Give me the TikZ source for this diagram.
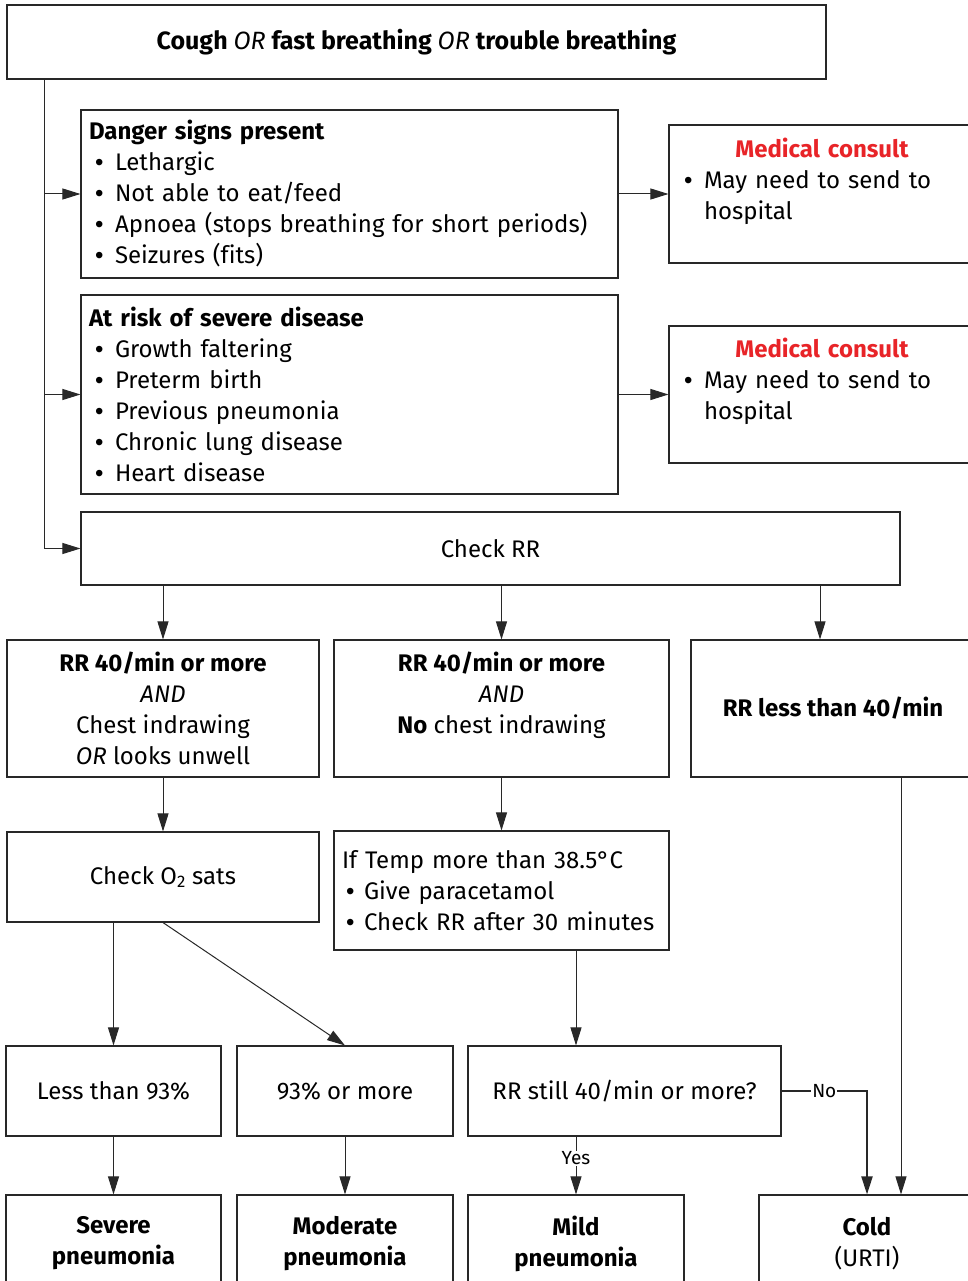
\documentclass[tikz,border=0pt]{standalone}
\usepackage{fontspec}
\setmainfont{Fira Sans}[Ligatures=NoCommon]
\newfontfamily\bulfont{Liberation Sans}
\usetikzlibrary{arrows.meta}
\definecolor{mcred}{RGB}{232,36,40}
\definecolor{linec}{RGB}{40,40,40}
\newcommand\bdot{{\bulfont •}}
\newcommand\bul{\makebox[26pt][l]{\hspace{6pt}\bdot}}
\newcommand\bulb{\makebox[22pt][l]{\hspace{4pt}\bdot}}
\newcommand\bulc{\makebox[27pt][l]{\hspace{7pt}\bdot}}
\begin{document}
\begin{tikzpicture}[x=1pt,y=-1pt,
  box/.style={draw=linec, line width=1.1pt, rectangle, inner sep=0pt,
    font=\fontsize{24}{31}\selectfont, align=center},
  lbox/.style={box, align=left, inner xsep=8pt},
  arr/.style={draw=linec, line width=1pt, -{Triangle[length=18pt,width=11pt]}},
  lbl/.style={fill=white, inner sep=1pt, font=\fontsize{19}{22}\selectfont}
]
\useasboundingbox (0,0) rectangle (968,1281);
\clip (0,0) rectangle (968,1281);

% top
\node[box, minimum width=819pt, minimum height=74pt, font=\fontsize{25}{31}\selectfont] (top) at (416.5,42)
  {\bfseries Cough {\mdseries\itshape OR} fast breathing {\mdseries\itshape OR} trouble breathing};

% danger signs
\node[lbox, text width=521pt, minimum height=168pt] (danger) at (349.5,194)
  {\textbf{Danger signs present}\\
   \bul Lethargic\\
   \bul Not able to eat/feed\\
   \bul Apnoea (stops breathing for short periods)\\
   \bul Seizures (fits)};

\node[lbox, text width=290pt, minimum height=138pt] (mc1) at (822,194)
  {\makebox[290pt][c]{\textcolor{mcred}{\bfseries Medical consult}}\\
   \bulc May need to send to\\
   \hspace*{27pt}hospital\\
   \mbox{}};

% at risk
\node[lbox, text width=521pt, minimum height=199pt] (risk) at (349.5,394.5)
  {\textbf{At risk of severe disease}\\
   \bul Growth faltering\\
   \bul Preterm birth\\
   \bul Previous pneumonia\\
   \bul Chronic lung disease\\
   \bul Heart disease};

\node[lbox, text width=290pt, minimum height=137pt] (mc2) at (822,394.5)
  {\makebox[290pt][c]{\textcolor{mcred}{\bfseries Medical consult}}\\
   \bulc May need to send to\\
   \hspace*{27pt}hospital\\
   \mbox{}};

% check RR
\node[box, minimum width=819pt, minimum height=73pt] (checkrr) at (490.5,548.5) {Check RR};

% RR branches
\node[box, minimum width=312pt, minimum height=137pt] (A) at (163,708.5)
  {\textbf{RR 40/min or more}\\ \textit{AND}\\ Chest indrawing\\ \textit{OR} looks unwell};
\node[box, minimum width=335pt, minimum height=137pt] (B) at (501.5,708.5)
  {\textbf{RR 40/min or more}\\ \textit{AND}\\ \textbf{No} chest indrawing\\ \mbox{}};
\node[box, minimum width=284pt, minimum height=137pt] (C) at (833,708.5)
  {\textbf{RR less than 40/min}};

% second level
\node[box, minimum width=312pt, minimum height=90pt] (o2) at (163,877)
  {Check O\textsubscript{2} sats};
\node[lbox, text width=319pt, minimum height=119pt] (temp) at (501.5,890.5)
  {If Temp more than 38.5°C\\
   \bulb Give paracetamol\\
   \bulb Check RR after 30 minutes};

% third level
\node[box, minimum width=215pt, minimum height=90pt] (lt93) at (113.5,1091) {Less than 93\%};
\node[box, minimum width=216pt, minimum height=90pt] (ge93) at (345,1091) {93\% or more};
\node[box, minimum width=313pt, minimum height=90pt] (still) at (624.5,1091) {RR still 40/min or more?};

% outcomes
\node[box, minimum width=215pt, minimum height=97pt] (severe) at (113.5,1243.5)
  {\textbf{Severe}\\ \textbf{pneumonia}};
\node[box, minimum width=216pt, minimum height=97pt] (moderate) at (345,1243.5)
  {\textbf{Moderate}\\ \textbf{pneumonia}};
\node[box, minimum width=216pt, minimum height=97pt] (mild) at (576,1243.5)
  {\textbf{Mild}\\ \textbf{pneumonia}};
\node[box, minimum width=216pt, minimum height=97pt] (cold) at (867,1243.5)
  {\textbf{Cold}\\ (URTI)};

% connectors
\coordinate (t0) at ([xshift=38pt]top.south west);
\draw[draw=linec, line width=1pt] (t0) -- (t0 |- checkrr.west);
\draw[arr] (t0 |- danger.west) -- (danger.west);
\draw[arr] (t0 |- risk.west) -- (risk.west);
\draw[arr] (t0 |- checkrr.west) -- (checkrr.west);

\draw[arr] (danger.east) -- (mc1.west);
\draw[arr] (risk.east) -- (mc2.west);

\coordinate (c1) at ([xshift=-13pt]C.north);
\draw[arr] (checkrr.south -| A.north) -- (A.north);
\draw[arr] (checkrr.south -| B.north) -- (B.north);
\draw[arr] (c1 |- checkrr.south) -- (c1);

\draw[arr] (A.south) -- (o2.north);
\draw[arr] (B.south) -- (temp.north);

\draw[arr] (o2.south -| lt93.north) -- (lt93.north);
\draw[arr] (o2.south) -- (ge93.north);
\draw[arr] (temp.south -| mild.north) -- (still.north -| mild.north);

\draw[arr] (lt93.south) -- (severe.north);
\draw[arr] (ge93.south) -- (moderate.north);
\draw[arr] (still.south -| mild.north) -- node[lbl, pos=0.38] {Yes} (mild.north);
\draw[arr, line width=2pt] (still.east) -| node[lbl, pos=0.25] {No} (cold.north);

\coordinate (c2) at ([xshift=34pt]cold.north);
\draw[arr] (C.south -| c2) -- (c2);
\end{tikzpicture}
\end{document}
